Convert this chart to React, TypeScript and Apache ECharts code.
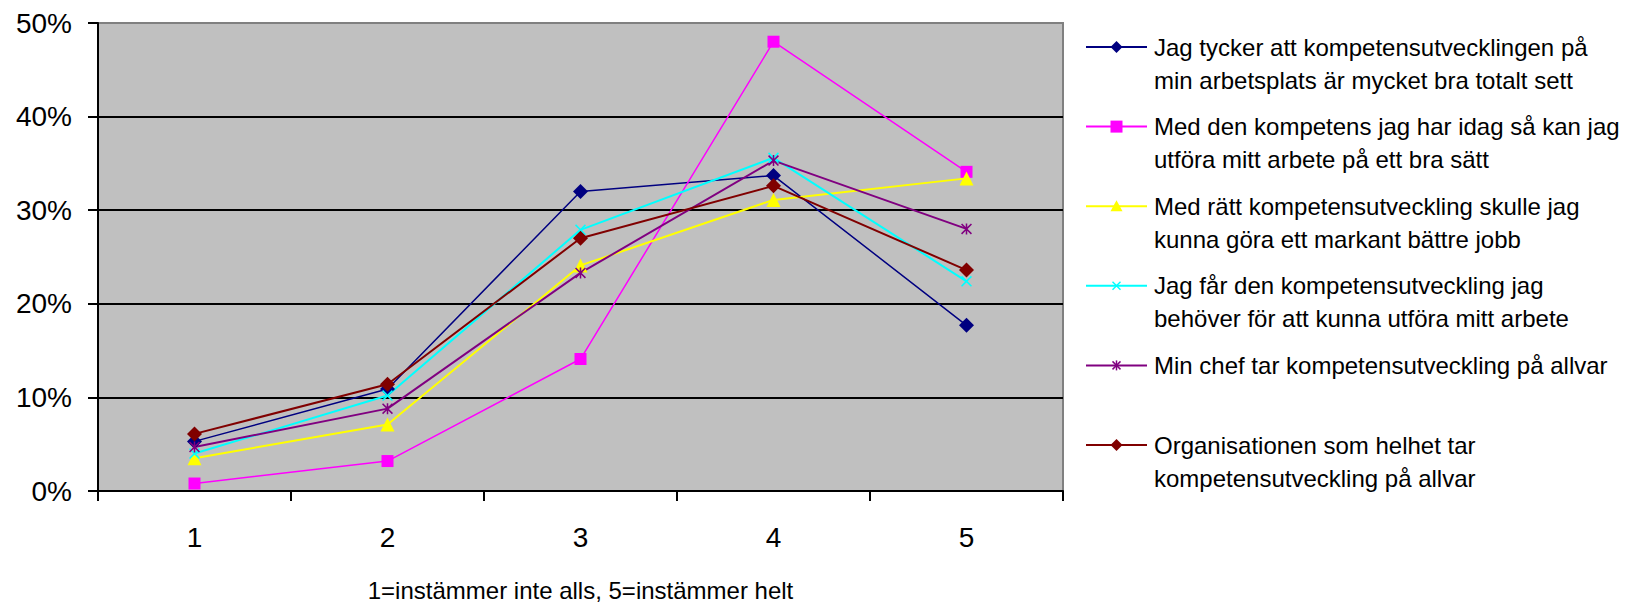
import React, { useEffect, useRef } from "react";
import * as echarts from "echarts";

// Agreement scale, 1 = not at all, 5 = fully
const categories = ["1", "2", "3", "4", "5"];
const yTicks = [0, 10, 20, 30, 40, 50];

// Share of respondents (%) per answer
const tyckerBra = [5.3, 10.9, 32.0, 33.7, 17.7];
const kompetensIdag = [0.8, 3.2, 14.1, 48.0, 34.1];
const rattUtveckling = [3.5, 7.1, 24.1, 31.1, 33.4];
const farUtveckling = [4.0, 10.2, 27.9, 35.6, 22.4];
const chefAllvar = [4.7, 8.8, 23.3, 35.3, 28.0];
const orgAllvar = [6.1, 11.4, 27.0, 32.6, 23.6];

const seriesNames = [
  "Jag tycker att kompetensutvecklingen på\nmin arbetsplats är mycket bra totalt sett",
  "Med den kompetens jag har idag så kan jag\nutföra mitt arbete på ett bra sätt",
  "Med rätt kompetensutveckling skulle jag\nkunna göra ett markant bättre jobb",
  "Jag får den kompetensutveckling jag\nbehöver för att kunna utföra mitt arbete",
  "Min chef tar kompetensutveckling på allvar",
  "Organisationen som helhet tar\nkompetensutveckling på allvar",
];
const seriesData = [tyckerBra, kompetensIdag, rattUtveckling, farUtveckling, chefAllvar, orgAllvar];
const seriesColors = ["#000080", "#ff00ff", "#ffff00", "#00ffff", "#800080", "#800000"];

const FONT = '"Liberation Sans", Arial, sans-serif';

const X_PATH = "path://M0,1 L1,0 L5,4 L9,0 L10,1 L6,5 L10,9 L9,10 L5,6 L1,10 L0,9 L4,5 Z";
const STAR_PATH =
  "path://M0,1 L1,0 L5,4 L9,0 L10,1 L6,5 L10,9 L9,10 L5,6 L1,10 L0,9 L4,5 Z M4.3,0 L5.7,0 L5.7,10 L4.3,10 Z";

const symbols = ["diamond", "rect", "triangle", X_PATH, STAR_PATH, "diamond"];
const symbolSizes = [15, 12, 14, 11, 11, 15];
const lineWidths = [1.5, 1.5, 2, 2, 2, 2];

type Kind = "diamond" | "square" | "triangle" | "x" | "star";
const legendKinds: Kind[] = ["diamond", "square", "triangle", "x", "star", "diamond"];

function legendMarker(kind: Kind, cx: number, cy: number, color: string): any[] {
  switch (kind) {
    case "diamond":
      return [{ type: "polygon", shape: { points: [[cx, cy - 6], [cx + 6, cy], [cx, cy + 6], [cx - 6, cy]] }, style: { fill: color } }];
    case "square":
      return [{ type: "rect", shape: { x: cx - 6, y: cy - 6, width: 12, height: 12 }, style: { fill: color } }];
    case "triangle":
      return [{ type: "polygon", shape: { points: [[cx, cy - 6], [cx + 6, cy + 5], [cx - 6, cy + 5]] }, style: { fill: color } }];
    case "x":
      return [
        { type: "line", shape: { x1: cx - 4, y1: cy - 4, x2: cx + 4, y2: cy + 4 }, style: { stroke: color, lineWidth: 1.5 } },
        { type: "line", shape: { x1: cx + 4, y1: cy - 4, x2: cx - 4, y2: cy + 4 }, style: { stroke: color, lineWidth: 1.5 } },
      ];
    case "star":
      return [
        { type: "line", shape: { x1: cx - 4, y1: cy - 4, x2: cx + 4, y2: cy + 4 }, style: { stroke: color, lineWidth: 1.5 } },
        { type: "line", shape: { x1: cx + 4, y1: cy - 4, x2: cx - 4, y2: cy + 4 }, style: { stroke: color, lineWidth: 1.5 } },
        { type: "line", shape: { x1: cx, y1: cy - 5, x2: cx, y2: cy + 5 }, style: { stroke: color, lineWidth: 1.5 } },
      ];
  }
}

function buildLegend(): any[] {
  const els: any[] = [];
  const x0 = 1086;
  const x1 = 1147;
  const textX = 1154;
  const firstY = 47;
  const step = 79.6;
  const lineH = 33;
  seriesNames.forEach((name, i) => {
    const cy = firstY + i * step;
    const color = seriesColors[i];
    els.push({ type: "line", shape: { x1: x0, y1: cy, x2: x1, y2: cy }, style: { stroke: color, lineWidth: 2 } });
    els.push(...legendMarker(legendKinds[i], (x0 + x1) / 2, cy, color));
    els.push({
      type: "text",
      x: textX,
      y: cy - lineH / 2,
      style: {
        text: name,
        font: `24px ${FONT}`,
        fill: "#000",
        lineHeight: lineH,
        verticalAlign: "top",
        align: "left",
      },
    });
  });
  return els;
}

export default function App() {
  const ref = useRef<HTMLDivElement>(null);

  useEffect(() => {
    if (!ref.current) return;
    const chart = echarts.init(ref.current, null, { renderer: "svg" });
    chart.setOption({
      animation: false,
      backgroundColor: "#ffffff",
      textStyle: { fontFamily: FONT },
      grid: {
        left: 98,
        top: 23,
        width: 965,
        height: 468,
        show: true,
        backgroundColor: "#c0c0c0",
        borderColor: "#808080",
        borderWidth: 2,
        containLabel: false,
        outerBoundsMode: "none",
      },
      xAxis: {
        type: "category",
        data: categories,
        boundaryGap: true,
        name: "1=instämmer inte alls, 5=instämmer helt",
        nameLocation: "middle",
        nameGap: 87,
        nameTextStyle: { fontSize: 24, color: "#000", fontFamily: FONT },
        axisLine: { show: true, lineStyle: { color: "#000", width: 2 } },
        axisTick: { show: true, length: 10, alignWithLabel: false, lineStyle: { color: "#000", width: 2 } },
        axisLabel: { fontSize: 28, color: "#000", margin: 32, fontFamily: FONT },
        splitLine: { show: false },
      },
      yAxis: {
        type: "value",
        min: yTicks[0],
        max: yTicks[yTicks.length - 1],
        interval: 10,
        axisLine: { show: true, lineStyle: { color: "#000", width: 2 } },
        axisTick: { show: true, length: 10, lineStyle: { color: "#000", width: 2 } },
        axisLabel: { fontSize: 28, color: "#000", margin: 26, formatter: "{value}%", fontFamily: FONT },
        splitLine: { show: true, showMaxLine: false, lineStyle: { color: "#000", width: 2 } },
      },
      series: seriesData.map((data, i) => ({
        type: "line",
        name: seriesNames[i],
        data,
        symbol: symbols[i],
        symbolSize: symbolSizes[i],
        showAllSymbol: true,
        itemStyle: { color: seriesColors[i] },
        lineStyle: { color: seriesColors[i], width: lineWidths[i] },
        emphasis: { disabled: true },
      })),
      graphic: buildLegend(),
    });
    return () => chart.dispose();
  }, []);

  return (
    <div
      ref={ref}
      style={{ position: "fixed", left: 0, top: 0, width: 1633, height: 603 }}
    />
  );
}
